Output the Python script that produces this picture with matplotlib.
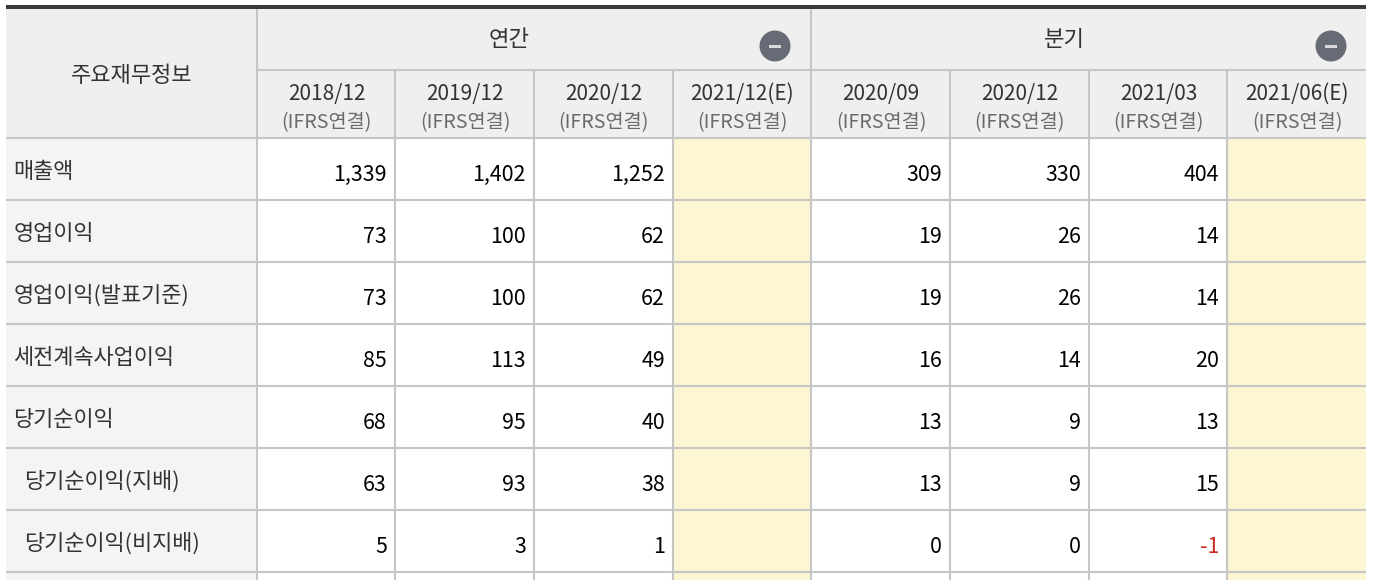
import matplotlib
matplotlib.use("Agg")
import matplotlib.pyplot as plt
from matplotlib.patches import Rectangle, Circle

plt.rcParams['font.family'] = ['Noto Sans CJK KR', 'DejaVu Sans']

corner_label = '주요재무정보'
group_labels = ['연간', '분기']
periods = ['2018/12', '2019/12', '2020/12', '2021/12(E)',
           '2020/09', '2020/12', '2021/03', '2021/06(E)']
basis = '(IFRS연결)'
row_labels = ['매출액', '영업이익', '영업이익(발표기준)', '세전계속사업이익',
              '당기순이익', '당기순이익(지배)', '당기순이익(비지배)']
row_indent = [0, 0, 0, 0, 0, 1, 1]
values = [
    ['1,339', '1,402', '1,252', '', '309', '330', '404', ''],
    ['73', '100', '62', '', '19', '26', '14', ''],
    ['73', '100', '62', '', '19', '26', '14', ''],
    ['85', '113', '49', '', '16', '14', '20', ''],
    ['68', '95', '40', '', '13', '9', '13', ''],
    ['63', '93', '38', '', '13', '9', '15', ''],
    ['5', '3', '1', '', '0', '0', '-1', ''],
]

# table layout in pixels
col_x = [6, 257, 395, 534, 673, 811, 950, 1089, 1227, 1366]
row_y = [138, 200, 262, 324, 386, 448, 510, 572, 580]
top, mid = 8, 69.5
HEAD, SIDE, EST, LINE, BAR = '#efefef', '#f4f4f4', '#fcf6d2', '#c6c6c6', '#3a3a3a'
INK, SOFT, RED = '#333333', '#6b6b6b', '#c9281c'

fig = plt.figure(figsize=(13.74, 5.80), dpi=100, facecolor='white')
ax = fig.add_axes([0, 0, 1, 1])
ax.set_xlim(0, 1374)
ax.set_ylim(580, 0)
ax.axis('off')

def rect(x0, y0, x1, y1, c):
    ax.add_patch(Rectangle((x0, y0), x1 - x0, y1 - y0, fc=c, ec='none', zorder=1))

rect(col_x[0], top, col_x[-1], row_y[0], HEAD)
rect(col_x[0], row_y[0], col_x[1], row_y[-1], SIDE)
for j in (3, 7):
    rect(col_x[j + 1], row_y[0], col_x[j + 2], row_y[-1], EST)

lw = 1.5
# horizontal lines
for y in row_y[:-1]:
    ax.plot([col_x[0], col_x[-1]], [y, y], color=LINE, lw=lw, zorder=2, solid_capstyle='butt')
ax.plot([col_x[1], col_x[-1]], [mid, mid], color=LINE, lw=lw, zorder=2, solid_capstyle='butt')
# vertical lines
for i, x in enumerate(col_x[1:-1], start=1):
    y0 = top if i in (1, 5) else mid
    ax.plot([x, x], [y0, 580], color=LINE, lw=lw, zorder=2, solid_capstyle='butt')
ax.add_patch(Rectangle((col_x[0], 5), col_x[-1] - col_x[0], 3.5, fc=BAR, ec='none', zorder=3))

# header text
ax.text((col_x[0] + col_x[1]) / 2, 76.5, corner_label, ha='center', va='center', fontsize=15.9, color=INK, zorder=4)
for k, (a, b) in enumerate(((1, 5), (5, 9))):
    ax.text((col_x[a] + col_x[b]) / 2 - 24.5, 40, group_labels[k], ha='center', va='center', fontsize=16, color=INK, zorder=4)
    cx = col_x[b] - 36 if k == 0 else col_x[b] - 35
    ax.add_patch(Circle((cx, 46), 15.5, fc='#666b75', ec='none', zorder=4))
    ax.add_patch(Rectangle((cx - 6, 44.5), 12, 3.5, fc='#d8d8d8', ec='none', zorder=5))

for j, p in enumerate(periods):
    xc = (col_x[j + 1] + col_x[j + 2]) / 2
    ax.text(xc + 0.5, 94, p, ha='center', va='center', fontsize=15, color=INK, zorder=4)
    ax.text(xc + 0.5, 123, basis, ha='center', va='center', fontsize=14.2, color=SOFT, zorder=4)

# body text
for i, lab in enumerate(row_labels):
    yc = (row_y[i] + row_y[i + 1]) / 2
    ax.text(13.5 + 11 * row_indent[i], yc + 3, lab, ha='left', va='center', fontsize=15.8, color=INK, zorder=4)
    for j, v in enumerate(values[i]):
        if v:
            ax.text(col_x[j + 2] - 8, yc + 6, v, ha='right', va='center', fontsize=15.4,
                    color=RED if v.startswith('-') else 'black', zorder=4)

fig.savefig('out.png', dpi=100, facecolor='white')
